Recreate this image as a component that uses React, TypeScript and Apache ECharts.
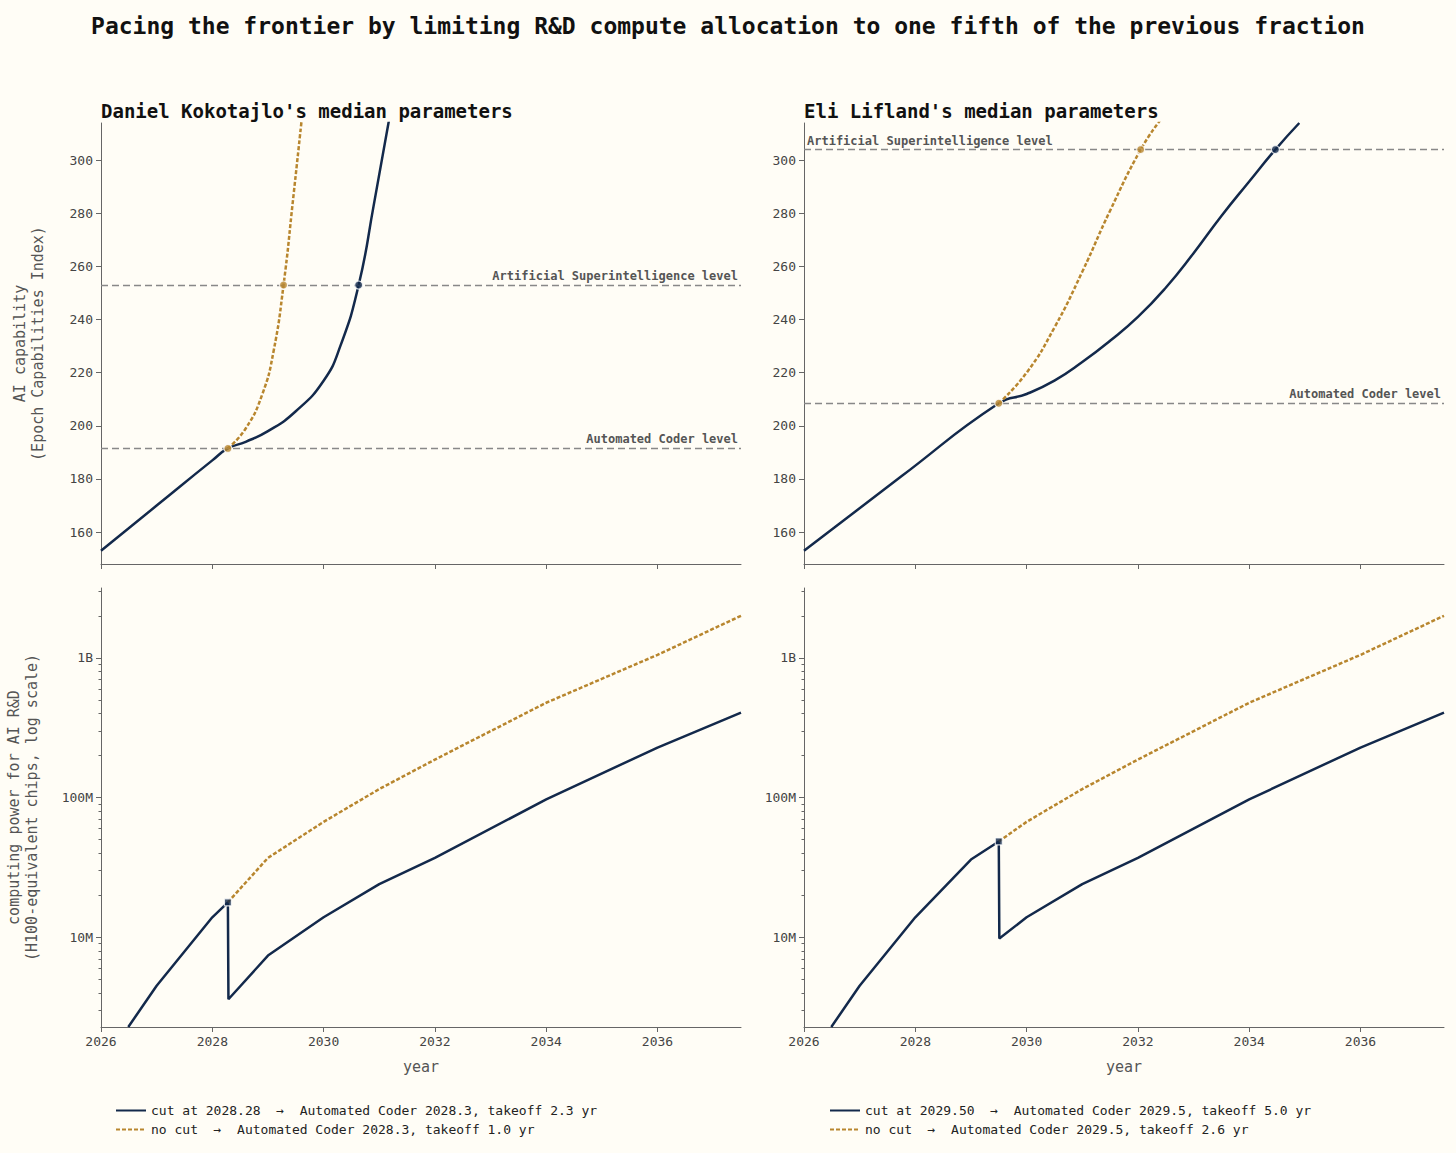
import { useEffect, useRef } from 'react';
import * as echarts from 'echarts';

const NAVY = '#13294b';
const GOLD = '#b8862e';
const BG = '#fffdf6';
const FONT = 'DejaVu Sans Mono';

const xTicks = [2026, 2028, 2030, 2032, 2034, 2036];
const capTicks = [160, 180, 200, 220, 240, 260, 280, 300];
const logTicks = [1e7, 1e8, 1e9];

// Daniel Kokotajlo
const dkCutName = 'cut at 2028.28  →  Automated Coder 2028.3, takeoff 2.3 yr';
const dkNoCutName = 'no cut  →  Automated Coder 2028.3, takeoff 1.0 yr';
const dkCapCut = [[2026, 153], [2027, 170], [2028, 187], [2028.28, 191.5], [2028.6, 194], [2029, 198], [2029.5, 205.5], [2030, 217], [2030.3, 230], [2030.63, 253], [2030.9, 283], [2031.2, 318]];
const dkCapNoCut = [[2028.28, 191.5], [2028.6, 199], [2028.9, 212], [2029.1, 228], [2029.28, 253], [2029.45, 285], [2029.62, 318]];
const dkComputeCut = [[2026.49, 2.28e6], [2027, 4.5e6], [2028, 13.9e6], [2028.28, 17.8e6], [2028.29, 3.6e6], [2029, 7.4e6], [2030, 13.9e6], [2031, 24e6], [2032, 37e6], [2034, 97e6], [2036, 228e6], [2037.5, 405e6]];
const dkComputeNoCut = [[2028.28, 17.8e6], [2029, 37e6], [2030, 67e6], [2031, 115e6], [2032, 187e6], [2034, 477e6], [2036, 1.05e9], [2037.5, 2e9]];
const dkAC = 191.5;
const dkASI = 253;

// Eli Lifland
const elCutName = 'cut at 2029.50  →  Automated Coder 2029.5, takeoff 5.0 yr';
const elNoCutName = 'no cut  →  Automated Coder 2029.5, takeoff 2.6 yr';
const elCapCut = [[2026, 153], [2027.75, 181], [2029.5, 208.5], [2030, 212], [2030.5, 217], [2031, 224], [2031.5, 232], [2032, 241], [2032.5, 252], [2033, 265], [2033.5, 279], [2034, 292], [2034.47, 304], [2034.9, 314]];
const elCapNoCut = [[2029.5, 208.5], [2030, 220], [2030.5, 237], [2031, 258], [2031.5, 281], [2032.05, 304], [2032.4, 315]];
const elComputeCut = [[2026.49, 2.28e6], [2027, 4.5e6], [2028, 13.9e6], [2029, 36e6], [2029.5, 48.5e6], [2029.51, 9.8e6], [2030, 13.9e6], [2031, 24e6], [2032, 37e6], [2034, 97e6], [2036, 228e6], [2037.5, 405e6]];
const elComputeNoCut = [[2029.5, 48.5e6], [2030, 67e6], [2031, 115e6], [2032, 187e6], [2034, 477e6], [2036, 1.05e9], [2037.5, 2e9]];
const elAC = 208.5;
const elASI = 304;

const minorLog: number[] = [];
for (let e = 6; e <= 9; e++) for (let m = 2; m <= 9; m++) minorLog.push(m * Math.pow(10, e));

const fmtLog = (v: number) => (v >= 1e9 ? `${Math.round(v / 1e9)}B` : `${Math.round(v / 1e6)}M`);

export default function App() {
    const chartRef = useRef<HTMLDivElement>(null);

    useEffect(() => {
        if (!chartRef.current) return;
        const chart = echarts.init(chartRef.current, null, { renderer: 'svg' });

        const axisLine = { show: true, lineStyle: { color: '#666', width: 1 } };
        const label = { fontFamily: FONT, fontSize: 13, color: '#444' };
        const lefts = [101, 804];

        const grids: any[] = [];
        const xAxes: any[] = [];
        const yAxes: any[] = [];
        lefts.forEach((l) => {
            grids.push({ left: l, width: 640, top: 123, height: 441 });
            grids.push({ left: l, width: 640, top: 588, height: 439 });
        });
        grids.forEach((_, i) => {
            const bottom = i % 2 === 1;
            xAxes.push({
                type: 'value', gridIndex: i, min: 2026, max: 2037.5,
                axisLine, splitLine: { show: false },
                axisTick: { show: true, customValues: xTicks, length: 5, lineStyle: { color: '#666' } },
                axisLabel: bottom ? { ...label, customValues: xTicks, formatter: (v: number) => String(v) } : { show: false },
                name: bottom ? 'year' : '', nameLocation: 'middle', nameGap: 32,
                nameTextStyle: { fontFamily: FONT, fontSize: 15, color: '#555' },
            });
        });
        grids.forEach((_, i) => {
            const bottom = i % 2 === 1;
            const first = i < 2;
            if (!bottom) {
                yAxes.push({
                    type: 'value', gridIndex: i, min: 148, max: 314, position: 'left',
                    axisLine, splitLine: { show: false },
                    axisTick: { show: true, customValues: capTicks, length: 5, lineStyle: { color: '#666' } },
                    axisLabel: { ...label, customValues: capTicks },
                    name: first ? 'AI capability\n(Epoch Capabilities Index)' : '',
                    nameLocation: 'middle', nameGap: 54, nameRotate: 90,
                    nameTextStyle: { fontFamily: FONT, fontSize: 15, color: '#555', lineHeight: 18 },
                });
            } else {
                yAxes.push({
                    type: 'log', logBase: 10, gridIndex: i, min: 2.28e6, max: 3.16e9, position: 'left',
                    axisLine, splitLine: { show: false },
                    axisTick: { show: true, customValues: logTicks, length: 5, lineStyle: { color: '#666' } },
                    axisLabel: { ...label, customValues: logTicks, formatter: fmtLog },
                    name: first ? 'computing power for AI R&D\n(H100-equivalent chips, log scale)' : '',
                    nameLocation: 'middle', nameGap: 60, nameRotate: 90,
                    nameTextStyle: { fontFamily: FONT, fontSize: 15, color: '#555', lineHeight: 18 },
                });
            }
        });
        // minor log ticks
        [1, 3].forEach((g) => {
            yAxes.push({
                type: 'log', logBase: 10, gridIndex: g, min: 2.28e6, max: 3.16e9, position: 'left', offset: 0,
                axisLine: { show: false }, splitLine: { show: false }, axisLabel: { show: false },
                axisTick: { show: true, customValues: minorLog.filter((v) => v > 2.28e6 && v < 3.16e9), length: 2.5, lineStyle: { color: '#666' } },
            });
        });

        const levelLine = (ac: number, asi: number, asiPos: string) => ({
            symbol: 'none', silent: true,
            lineStyle: { color: '#888', type: [7, 4], width: 1.3 },
            label: { position: 'insideEndTop', fontFamily: FONT, fontSize: 12, fontWeight: 'bold', color: '#555', distance: 3 },
            data: [
                { yAxis: ac, label: { formatter: 'Automated Coder level' } },
                { yAxis: asi, label: { formatter: 'Artificial Superintelligence level', position: asiPos } },
            ],
        });

        const line = (name: string, data: number[][], g: number, yi: number, gold: boolean, smooth: boolean, extra: any = {}) => ({
            name, type: 'line', xAxisIndex: g, yAxisIndex: yi, data, smooth, symbol: 'none',
            lineStyle: { color: gold ? GOLD : NAVY, width: 2.5, type: gold ? [4, 2] : 'solid' },
            itemStyle: { color: gold ? GOLD : NAVY },
            z: gold ? 3 : 2, ...extra,
        });
        const dots = (data: number[][], g: number, color: string, symbol = 'circle') => ({
            type: 'scatter', xAxisIndex: g, yAxisIndex: g, data, symbol, symbolSize: symbol === 'circle' ? 8 : 7,
            itemStyle: { color, borderColor: '#fff', borderWidth: 1.2 }, z: 5,
        });

        const series: any[] = [
            line(dkCutName, dkCapCut, 0, 0, false, true, { markLine: levelLine(dkAC, dkASI, 'insideEndTop') }),
            line(dkNoCutName, dkCapNoCut, 0, 0, true, true),
            dots([[2028.28, dkAC]], 0, GOLD),
            dots([[2029.28, dkASI]], 0, GOLD),
            dots([[2030.63, dkASI]], 0, NAVY),
            line(dkCutName, dkComputeCut, 1, 1, false, false),
            line(dkNoCutName, dkComputeNoCut, 1, 1, true, false),
            dots([[2028.28, 17.8e6]], 1, NAVY, 'rect'),
            line(elCutName, elCapCut, 2, 2, false, true, { markLine: levelLine(elAC, elASI, 'insideStartTop') }),
            line(elNoCutName, elCapNoCut, 2, 2, true, true),
            dots([[2029.5, elAC]], 2, GOLD),
            dots([[2032.05, elASI]], 2, GOLD),
            dots([[2034.47, elASI]], 2, NAVY),
            line(elCutName, elComputeCut, 3, 3, false, false),
            line(elNoCutName, elComputeNoCut, 3, 3, true, false),
            dots([[2029.5, 48.5e6]], 3, NAVY, 'rect'),
        ];

        const legend = (left: number, data: string[]) => ({
            left, top: 1099, orient: 'vertical', itemGap: 6, itemWidth: 30, itemHeight: 12,
            itemStyle: { opacity: 0 },
            textStyle: { fontFamily: FONT, fontSize: 13, color: '#222' }, data, selectedMode: false,
        });

        chart.setOption({
            animation: false,
            backgroundColor: BG,
            title: [
                { text: 'Pacing the frontier by limiting R&D compute allocation to one fifth of the previous fraction', left: 'center', top: 9, textStyle: { fontFamily: FONT, fontSize: 23, fontWeight: 'bold', color: '#111' } },
                { text: "Daniel Kokotajlo's median parameters", left: 96, top: 96, textStyle: { fontFamily: FONT, fontSize: 19, fontWeight: 'bold', color: '#111' } },
                { text: "Eli Lifland's median parameters", left: 799, top: 96, textStyle: { fontFamily: FONT, fontSize: 19, fontWeight: 'bold', color: '#111' } },
            ],
            legend: [legend(110, [dkCutName, dkNoCutName]), legend(824, [elCutName, elNoCutName])],
            grid: grids,
            xAxis: xAxes,
            yAxis: yAxes,
            series,
        });

        return () => chart.dispose();
    }, []);

    return <div ref={chartRef} style={{ position: 'fixed', left: 0, top: 0, width: 1456, height: 1153 }} />;
}
